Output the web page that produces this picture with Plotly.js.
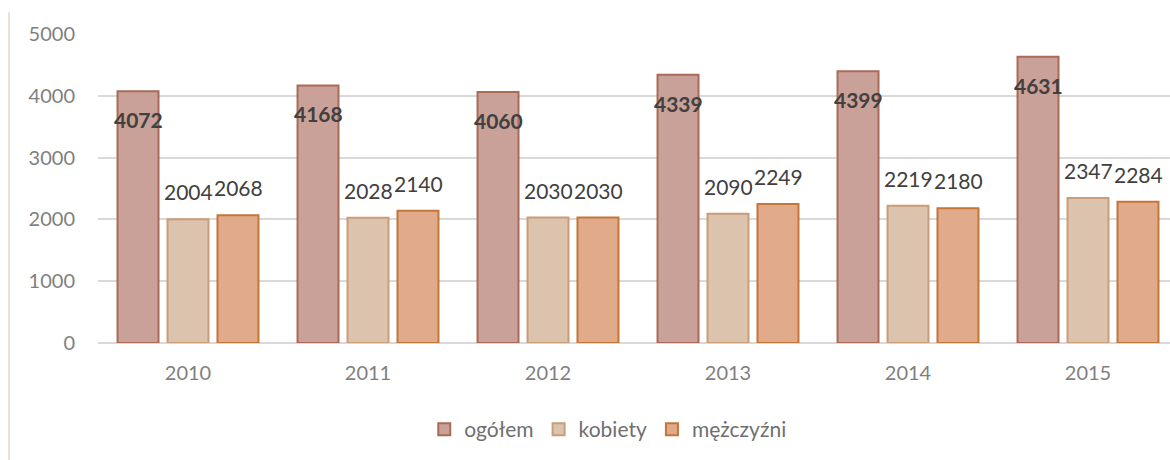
<!DOCTYPE html>
<html>
<head>
<meta charset="utf-8">
<script src="https://cdn.plot.ly/plotly-3.0.1.min.js"></script>
<style>
html,body{margin:0;padding:0;overflow:hidden;width:1170px;height:460px;background:#fff;}
#chart{width:1180px;height:460px;}
</style>
</head>
<body>
<div id="chart"></div>
<script>
const years = ['2010','2011','2012','2013','2014','2015'];
const seriesNames = ['ogółem','kobiety','mężczyźni'];
const ogolem = [4072, 4168, 4060, 4339, 4399, 4631];
const kobiety = [2004, 2028, 2030, 2090, 2219, 2347];
const mezczyzni = [2068, 2140, 2030, 2249, 2180, 2284];
const yTicks = [0, 1000, 2000, 3000, 4000, 5000];

const fills = ['#caa199', '#dcc3ad', '#e1ab8b'];
const borders = ['#a96a58', '#c99d78', '#c47636'];
const allValues = [ogolem, kobiety, mezczyzni];

const traces = allValues.map((vals, i) => ({
  type: 'bar',
  name: seriesNames[i],
  x: years,
  y: vals,
  marker: {color: fills[i], line: {color: borders[i], width: 2}},
  hoverinfo: 'none'
}));

const offsets = [-50, 0, 50];
const annotations = [];
allValues.forEach((vals, i) => {
  vals.forEach((v, j) => {
    const inside = (i === 0);
    annotations.push({
      x: j, y: v, xref: 'x', yref: 'y', xshift: offsets[i], yshift: inside ? -14 : 13,
      text: inside ? '<b>' + v + '</b>' : String(v), showarrow: false,
      yanchor: inside ? 'top' : 'bottom', xanchor: 'center',
      font: {family: 'Lato, sans-serif', size: 21, color: '#404040'}
    });
  });
});

const layout = {
  width: 1180, height: 460,
  margin: {l: 98, r: 2, t: 34, b: 117},
  paper_bgcolor: '#ffffff', plot_bgcolor: '#ffffff',
  barmode: 'group', bargap: 0.167, bargroupgap: 0.18,
  font: {family: 'Lato, sans-serif', color: '#7f7f7f'},
  showlegend: true,
  legend: {
    orientation: 'h', x: 0.472, xanchor: 'center', y: -0.28, yanchor: 'middle',
    font: {size: 21, color: '#6f6f6f'}, itemwidth: 30, traceorder: 'normal'
  },
  xaxis: {
    type: 'category', range: [-0.5, 5.5], autorange: false,
    showgrid: false, zeroline: false, showline: false, ticks: '',
    tickfont: {size: 20, color: '#7f7f7f'}, ticklabelstandoff: 16
  },
  yaxis: {
    range: [0, 5000], autorange: false, tickvals: yTicks, ticktext: yTicks.map(String),
    showgrid: true, gridcolor: '#d9d9d9', gridwidth: 2,
    zeroline: true, zerolinecolor: '#d9d9d9', zerolinewidth: 2,
    showline: false, ticks: '',
    tickfont: {size: 20, color: '#7f7f7f'}, ticklabelstandoff: 22
  },
  annotations: annotations,
  shapes: [{
    type: 'line', xref: 'paper', yref: 'paper',
    x0: -89/1080, x1: -89/1080, y0: 1.07, y1: -0.4,
    line: {color: '#e2d6c8', width: 1.5}
  }]
};

Plotly.newPlot('chart', traces, layout, {displayModeBar: false, staticPlot: true});
</script>
</body>
</html>
